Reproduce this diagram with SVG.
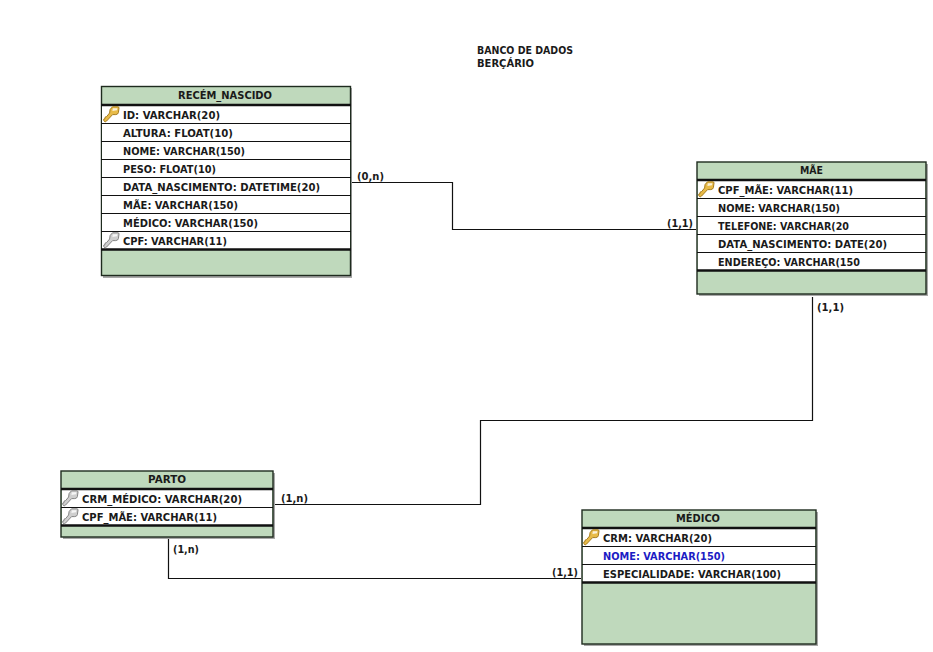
<svg xmlns="http://www.w3.org/2000/svg" width="933" height="652" viewBox="0 0 933 652">
<style>
text{font-family:"DejaVu Sans","Liberation Sans",sans-serif;font-weight:700;font-size:11px;fill:#1a1a1a}
.shadow{fill:#a8a8a8}
.body{fill:#bfd9bc;stroke:#1e2b1e;stroke-width:1.4}
.rows{fill:#fff}
.sep{stroke:#111;stroke-width:1.2;fill:none}
.thick{stroke:#111;stroke-width:2.4;fill:none}
.conn{stroke:#111;stroke-width:1.2;fill:none}
.blue{fill:#1c1cc4}
.og{fill:#e8bb48;stroke:#a67c1e;stroke-width:1}
.os{fill:#cfcfcf;stroke:#858585;stroke-width:1}
.h{fill:#fff;fill-opacity:.8}
</style>
<defs>
<path id="keyshape" d="M9.5 .8 L15 .8 Q16 .8 16 2 L15.4 6.6 Q15 8.4 12.8 8.6 L9.6 8.6 L3.6 15 L2.2 16 L.8 14.6 L.8 13 L2 12.6 L2.2 11 L3.6 10.6 L6.6 7 Q6.2 3 9.5 .8 Z"/>
<g id="keygold"><use href="#keyshape" class="og"/><path class="h" d="M9.8 2.2 L14.4 2.2 L14 4.2 L9.4 5 Z"/></g>
<g id="keygrey"><use href="#keyshape" class="os"/><path class="h" d="M9.8 2.2 L14.4 2.2 L14 4.2 L9.4 5 Z"/></g>
</defs>
<rect width="933" height="652" fill="#fff"/>
<g id="titulo"><text x="477" y="54" textLength="96" lengthAdjust="spacingAndGlyphs">BANCO DE DADOS</text><text x="477" y="67" textLength="57" lengthAdjust="spacingAndGlyphs">BERÇÁRIO</text></g>
<g id="connectors">
<path class="conn" d="M351 182.500H452.500V229.500H696"/>
<path class="conn" d="M812.500 297V420.500H480.500V504.500H275"/>
<path class="conn" d="M168.500 539V578.500H581"/>
<text x="357" y="180" textLength="27" lengthAdjust="spacingAndGlyphs">(0,n)</text>
<text x="667" y="227" textLength="26" lengthAdjust="spacingAndGlyphs">(1,1)</text>
<text x="817" y="311" textLength="27" lengthAdjust="spacingAndGlyphs">(1,1)</text>
<text x="281" y="502" textLength="27" lengthAdjust="spacingAndGlyphs">(1,n)</text>
<text x="173" y="553" textLength="26" lengthAdjust="spacingAndGlyphs">(1,n)</text>
<text x="552" y="576" textLength="26" lengthAdjust="spacingAndGlyphs">(1,1)</text>
</g>
<g id="recem_nascido">
<rect class="shadow" x="103" y="88" width="249" height="190"/>
<rect class="body" x="101.500" y="86.500" width="249" height="189"/>
<rect class="rows" x="102" y="105" width="248" height="145"/>
<path class="thick" d="M101 105H351M101 249.500H351"/>
<path class="sep" d="M101 123.500H351M101 141.500H351M101 159.500H351M101 177.500H351M101 195.500H351M101 213.500H351M101 231.500H351"/>
<text x="178" y="99" textLength="94" lengthAdjust="spacingAndGlyphs">RECÉM_NASCIDO</text>
<use href="#keygold" x="103" y="106"/>
<use href="#keygrey" x="103" y="232"/>
<text x="123" y="119" textLength="97" lengthAdjust="spacingAndGlyphs">ID: VARCHAR(20)</text>
<text x="123" y="137" textLength="110" lengthAdjust="spacingAndGlyphs">ALTURA: FLOAT(10)</text>
<text x="123" y="155" textLength="122" lengthAdjust="spacingAndGlyphs">NOME: VARCHAR(150)</text>
<text x="123" y="173" textLength="93" lengthAdjust="spacingAndGlyphs">PESO: FLOAT(10)</text>
<text x="123" y="191" textLength="197" lengthAdjust="spacingAndGlyphs">DATA_NASCIMENTO: DATETIME(20)</text>
<text x="123" y="209" textLength="115" lengthAdjust="spacingAndGlyphs">MÃE: VARCHAR(150)</text>
<text x="123" y="227" textLength="135" lengthAdjust="spacingAndGlyphs">MÉDICO: VARCHAR(150)</text>
<text x="123" y="245" textLength="104" lengthAdjust="spacingAndGlyphs">CPF: VARCHAR(11)</text>
</g>
<g id="mae">
<rect class="shadow" x="699" y="164" width="229" height="132"/>
<rect class="body" x="697" y="162" width="229" height="132"/>
<rect class="rows" x="698" y="180" width="227" height="91"/>
<path class="thick" d="M697 180H926M697 270.500H926"/>
<path class="sep" d="M697 198.500H926M697 216.500H926M697 234.500H926M697 252.500H926"/>
<text x="800" y="174" textLength="23" lengthAdjust="spacingAndGlyphs">MÃE</text>
<use href="#keygold" x="698" y="181"/>
<text x="718" y="194" textLength="135" lengthAdjust="spacingAndGlyphs">CPF_MÃE: VARCHAR(11)</text>
<text x="718" y="212" textLength="122" lengthAdjust="spacingAndGlyphs">NOME: VARCHAR(150)</text>
<text x="718" y="230" textLength="131" lengthAdjust="spacingAndGlyphs">TELEFONE: VARCHAR(20</text>
<text x="718" y="248" textLength="169" lengthAdjust="spacingAndGlyphs">DATA_NASCIMENTO: DATE(20)</text>
<text x="718" y="266" textLength="142" lengthAdjust="spacingAndGlyphs">ENDEREÇO: VARCHAR(150</text>
</g>
<g id="parto">
<rect class="shadow" x="63" y="473" width="212" height="66"/>
<rect class="body" x="61" y="471" width="212" height="66"/>
<rect class="rows" x="62" y="489" width="210" height="37"/>
<path class="thick" d="M61 489H273M61 525.500H273"/>
<path class="sep" d="M61 507.500H273"/>
<text x="148" y="483" textLength="38" lengthAdjust="spacingAndGlyphs">PARTO</text>
<use href="#keygrey" x="62" y="490"/>
<use href="#keygrey" x="62" y="508"/>
<text x="82" y="503" textLength="160" lengthAdjust="spacingAndGlyphs">CRM_MÉDICO: VARCHAR(20)</text>
<text x="82" y="521" textLength="135" lengthAdjust="spacingAndGlyphs">CPF_MÃE: VARCHAR(11)</text>
</g>
<g id="medico">
<rect class="shadow" x="584" y="512" width="234" height="134"/>
<rect class="body" x="582" y="510" width="234" height="134"/>
<rect class="rows" x="583" y="528" width="232" height="55"/>
<path class="thick" d="M582 528H816M582 582.500H816"/>
<path class="sep" d="M582 546.500H816M582 564.500H816"/>
<text x="676" y="522" textLength="44" lengthAdjust="spacingAndGlyphs">MÉDICO</text>
<use href="#keygold" x="583" y="529"/>
<text x="603" y="542" textLength="109" lengthAdjust="spacingAndGlyphs">CRM: VARCHAR(20)</text>
<text class="blue" x="603" y="560" textLength="122" lengthAdjust="spacingAndGlyphs">NOME: VARCHAR(150)</text>
<text x="603" y="578" textLength="178" lengthAdjust="spacingAndGlyphs">ESPECIALIDADE: VARCHAR(100)</text>
</g>
</svg>
